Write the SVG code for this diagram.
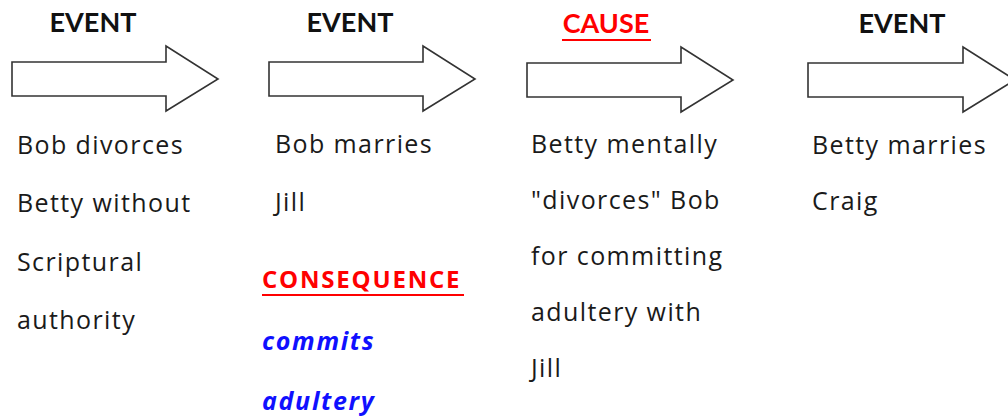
<svg xmlns="http://www.w3.org/2000/svg" width="1008" height="417" viewBox="0 0 1008 417">
<style>
.arrow{fill:#fff;stroke:#333;stroke-width:1.6;stroke-linejoin:miter}
.hd{font-family:Lato,"Open Sans",sans-serif;font-weight:bold;font-size:27px;fill:#111;text-anchor:middle}
.red{fill:#ff0000}
.body{font-family:"Open Sans",Lato,sans-serif;font-size:25px;letter-spacing:1.4px;fill:#1a1a1a}
.cons{font-family:"Open Sans",Lato,sans-serif;font-weight:bold;font-size:24px;letter-spacing:1.8px;fill:#ff0000}
.blue{font-family:"Open Sans",Lato,sans-serif;font-weight:bold;font-style:italic;font-size:25px;letter-spacing:1.7px;fill:#1010ff}
.ul{stroke:#ff0000;stroke-width:2}
</style>
<g id="connectors"></g>
<g id="node1">
<text class="hd" x="93" y="32">EVENT</text>
<path class="arrow" d="M12,62 H166 V46 L218,79 L166,111 V96 H12 Z"/>
<text class="body" x="17" y="154">Bob divorces</text>
<text class="body" x="17" y="212">Betty without</text>
<text class="body" x="17" y="271">Scriptural</text>
<text class="body" x="17" y="329">authority</text>
</g>
<g id="node2">
<text class="hd" x="350" y="32">EVENT</text>
<path class="arrow" d="M269,62 H423 V46 L475,79 L423,111 V96 H269 Z"/>
<text class="body" x="275" y="153">Bob marries</text>
<text class="body" x="275" y="211">Jill</text>
<text class="cons" x="262" y="288">CONSEQUENCE</text>
<line class="ul" x1="262" y1="295" x2="464" y2="295"/>
<text class="blue" x="262" y="350">commits</text>
<text class="blue" x="262" y="410">adultery</text>
</g>
<g id="node3">
<text class="hd red" x="606" y="33">CAUSE</text>
<line class="ul" x1="562" y1="40" x2="651" y2="40"/>
<path class="arrow" d="M527,63 H681 V47 L733,80 L681,112 V97 H527 Z"/>
<text class="body" x="531" y="153">Betty mentally</text>
<text class="body" x="531" y="209">"divorces" Bob</text>
<text class="body" x="531" y="265">for committing</text>
<text class="body" x="531" y="321">adultery with</text>
<text class="body" x="531" y="377">Jill</text>
</g>
<g id="node4">
<text class="hd" x="902" y="33">EVENT</text>
<path class="arrow" d="M808,63 H963 V47 L1015,80 L963,112 V97 H808 Z"/>
<text class="body" x="812" y="154">Betty marries</text>
<text class="body" x="812" y="210">Craig</text>
</g>
</svg>
